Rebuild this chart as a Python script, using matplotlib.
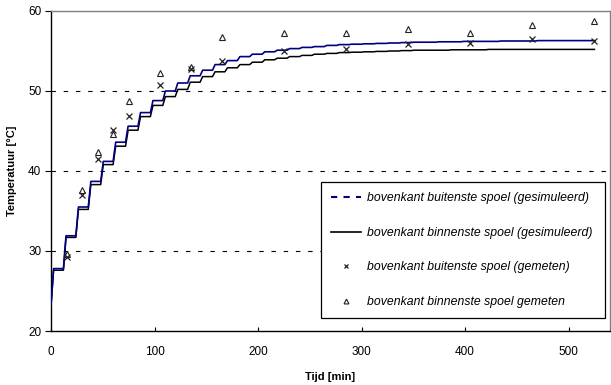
import matplotlib
matplotlib.use("Agg")
import matplotlib.pyplot as plt
from matplotlib.lines import Line2D
import numpy as np

plt.rcParams['font.family'] = ['Liberation Sans', 'DejaVu Sans']

# simulated temperatures: one level per 12-minute heating step
step_start = [0, 12, 24, 36, 48, 60, 72, 84, 96, 108,
              120, 132, 144, 156, 168, 180, 192, 204, 216, 228,
              240, 252, 264, 276, 288, 300, 312, 324, 336, 348,
              360, 372, 384, 396, 408, 420, 432, 444, 456, 468,
              480, 492, 504, 516]
t_end = 525
start_temp = 23.2
sim_binnen = [27.6, 31.7, 35.2, 38.3, 40.8, 43.1, 45.1, 46.8, 48.2, 49.3,
              50.2, 51.1, 51.8, 52.4, 52.9, 53.3, 53.6, 53.9, 54.1, 54.3,
              54.45, 54.6, 54.7, 54.8, 54.85, 54.9, 54.95, 55.0, 55.05, 55.1,
              55.1, 55.1, 55.15, 55.15, 55.15, 55.2, 55.2, 55.2, 55.2, 55.2,
              55.2, 55.2, 55.2, 55.2]
sim_buiten = [27.8, 31.9, 35.5, 38.7, 41.2, 43.6, 45.6, 47.3, 48.8, 50.0,
              51.0, 51.9, 52.6, 53.3, 53.8, 54.3, 54.6, 54.9, 55.1, 55.3,
              55.45, 55.55, 55.7, 55.8, 55.85, 55.9, 55.95, 56.0, 56.05, 56.1,
              56.1, 56.15, 56.15, 56.2, 56.2, 56.2, 56.25, 56.25, 56.25, 56.3,
              56.3, 56.3, 56.3, 56.3]

# measurements
t_meet = [15, 30, 45, 60, 75, 105, 135, 165, 225, 285, 345, 405, 465, 525]
meet_buiten = [29.3, 37.0, 41.5, 45.1, 46.9, 50.8, 52.8, 53.7, 55.0, 55.3,
               55.9, 56.0, 56.5, 56.3]
meet_binnen = [29.6, 37.6, 42.4, 44.6, 48.7, 52.3, 53.0, 56.8, 57.3, 57.3,
               57.8, 57.3, 58.2, 58.7]

RAMP = 2.5


def step_curve(levels):
    xs, ys = [], []
    prev = start_temp
    for i, lev in enumerate(levels):
        xs += [step_start[i], step_start[i] + RAMP]
        ys += [prev, lev]
        prev = lev
    xs.append(t_end)
    ys.append(prev)
    return xs, ys


fig = plt.figure(figsize=(6.11, 3.85), dpi=100)
ax = fig.add_axes([51 / 611, 54 / 385, 559 / 611, 320 / 385])

navy = '#000080'
x, y = step_curve(sim_buiten)
ax.plot(x, y, color=navy, lw=1.2, zorder=3)
x, y = step_curve(sim_binnen)
ax.plot(x, y, color='black', lw=1.1, zorder=2)

ax.plot(t_meet, meet_buiten, ls='none', marker='x', ms=4, mew=0.9,
        color='#222222', zorder=4)
ax.plot(t_meet, meet_binnen, ls='none', marker='^', ms=4.5, mew=0.8,
        mfc='none', mec='#222222', zorder=4)

for yy in [30, 40, 50]:
    ax.axhline(yy, color='black', lw=0.8, ls=(0, (4, 7)), zorder=1)

ax.set_xlim(0, 540)
ax.set_ylim(20, 60)
ax.set_xticks([0, 100, 200, 300, 400, 500])
ax.set_yticks([20, 30, 40, 50, 60])
ax.tick_params(axis='x', direction='in', length=3, labelsize=8.5, pad=11)
ax.tick_params(axis='y', direction='out', length=4, labelsize=8.5, pad=3)

for s in ['top', 'right']:
    ax.spines[s].set_color('#808080')
    ax.spines[s].set_linewidth(1.0)
for s in ['left', 'bottom']:
    ax.spines[s].set_linewidth(1.0)

ax.set_xlabel('Tijd [min]', fontsize=8, fontweight='bold', labelpad=10)
ax.set_ylabel('Temperatuur [°C]', fontsize=8, fontweight='bold', labelpad=8)

handles = [
    Line2D([], [], color=navy, lw=1.5, ls=(0, (3, 3))),
    Line2D([], [], color='black', lw=1.2),
    Line2D([], [], ls='none', marker='x', ms=3.5, mew=0.9, color='#222222'),
    Line2D([], [], ls='none', marker='^', ms=3.5, mew=0.8, mfc='none',
           mec='#222222'),
]
labels = ['bovenkant buitenste spoel (gesimuleerd)',
          'bovenkant binnenste spoel (gesimuleerd)',
          'bovenkant buitenste spoel (gemeten)',
          'bovenkant binnenste spoel gemeten']
leg = ax.legend(handles, labels, loc='upper left',
                bbox_to_anchor=(0.483, 0.466, 0.508, 0.0), mode='expand',
                prop={'style': 'italic', 'size': 8.8}, fancybox=False,
                framealpha=1, edgecolor='black', labelspacing=1.85,
                handlelength=2.4, handletextpad=0.5, borderpad=0.85,
                borderaxespad=0)
leg.get_frame().set_linewidth(0.9)

fig.savefig('out.png', dpi=100)
